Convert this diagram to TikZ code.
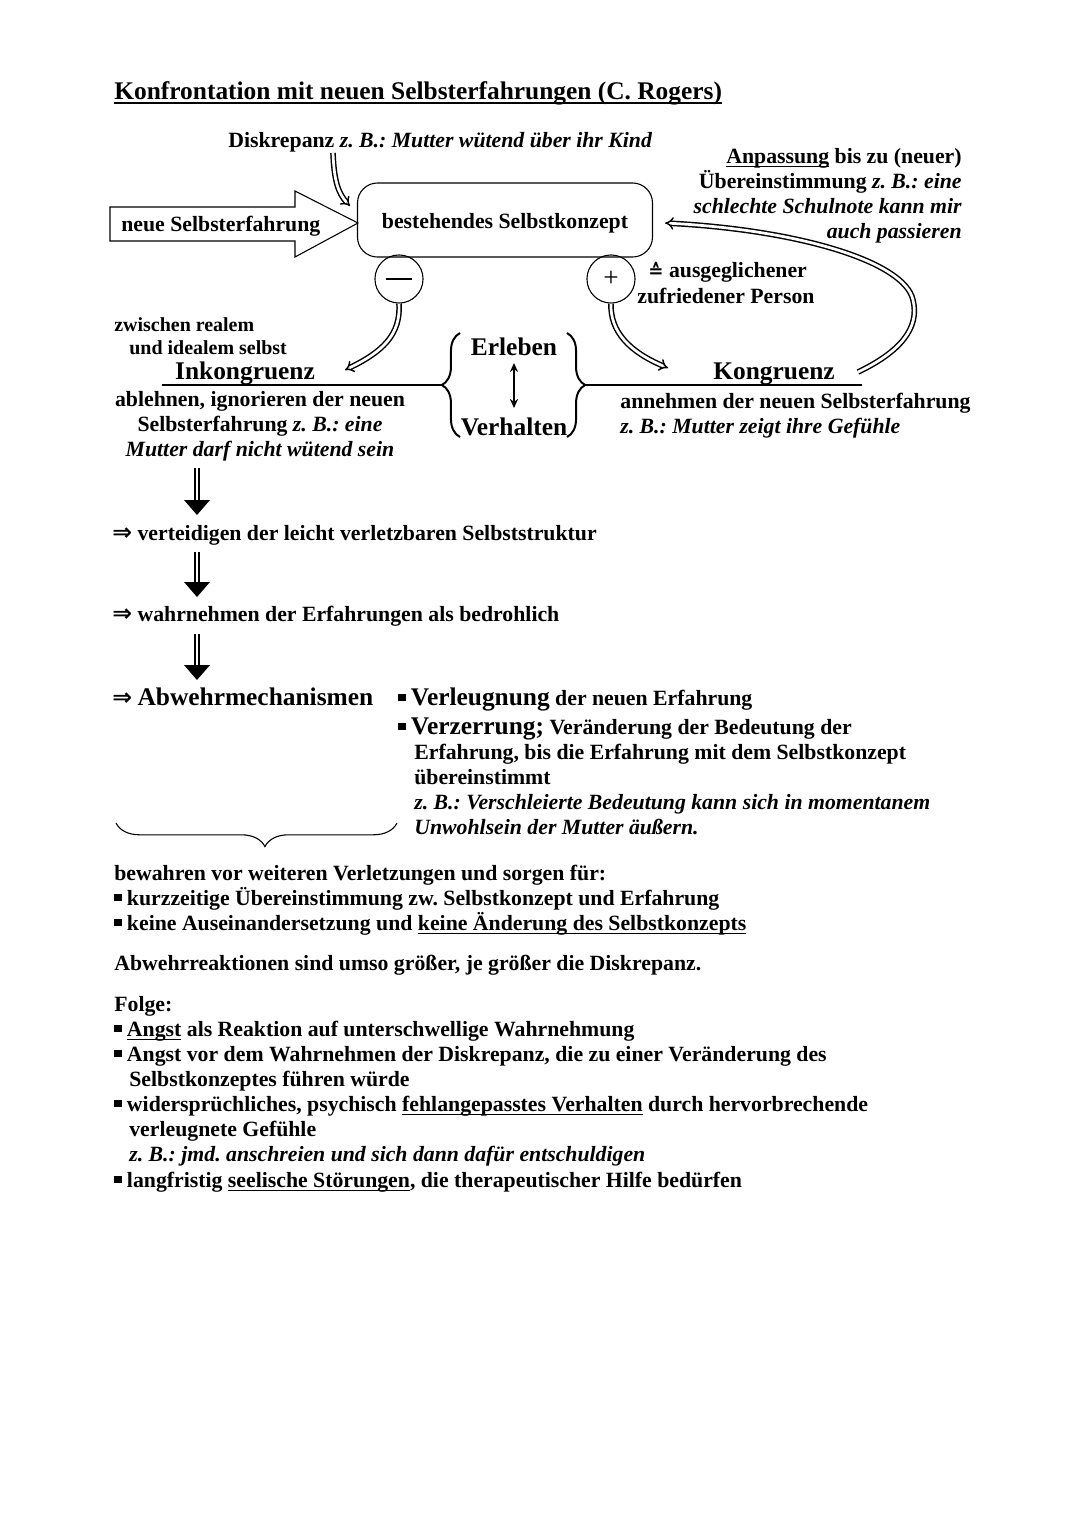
\documentclass[tikz,border=0pt]{standalone}
\usepackage{fontspec}
\setmainfont{Liberation Serif}
\newfontfamily\symf{DejaVu Sans}
\usetikzlibrary{arrows.meta,decorations.pathreplacing,calc}
\frenchspacing
\newsavebox\ulbox
\newcommand\myul[1]{\sbox\ulbox{#1}\rlap{\rule[-0.2em]{\wd\ulbox}{0.065em}}\usebox\ulbox}
\newcommand\bul{\raisebox{0.17em}{\rule{0.33em}{0.33em}}}
\newcommand\impl{{\symf\fontsize{13}{13}\selectfont ⇒}}
\newcommand\bigf{\fontsize{14}{16}\selectfont}
\begin{document}
\begin{tikzpicture}[x=0.55118pt,y=-0.55118pt,
  every node/.style={inner sep=0pt},
  txt/.style={anchor=base west, font=\fontsize{12}{13.8}\selectfont\bfseries},
  txtr/.style={anchor=base east, font=\fontsize{12}{13.8}\selectfont\bfseries},
  txtc/.style={anchor=base, font=\fontsize{12}{13.8}\selectfont\bfseries},
  bigc/.style={anchor=base, font=\fontsize{14}{16}\selectfont\bfseries},
  smalltxt/.style={anchor=base west, font=\fontsize{11}{13}\selectfont\bfseries},
  dblarr/.style={double, double distance=1.5pt, line width=0.8pt, -{Implies[scale=1.2]}},
  downarr/.style={double, double distance=1.5pt, line width=0.8pt},
  arrhead/.style={fill=black},
  barline/.style={line width=1.5pt},
  bracel/.style={line width=1.1pt, decorate, decoration={brace, amplitude=10pt}},
  thinline/.style={line width=0.6pt}
]
\useasboundingbox (0,0) rectangle (1080,1526);

% title
\node[txt, font=\bigf\bfseries] (title) at (114,99) {\myul{Konfrontation mit neuen Selbsterfahrungen (C. Rogers)}};

% top part
\node[txt] (disk) at (228,147) {Diskrepanz {\itshape z. B.: Mutter wütend über ihr Kind}};
\node[txt] (neue) at (121,231) {neue Selbsterfahrung};
\draw[thinline] (110,207) -- (295,207) -- (295,191) -- (358,223) -- (295,257) -- (295,241) -- (110,241) -- cycle;
\node[draw, thinline, rounded corners=11pt, minimum width=162.6pt, minimum height=40.8pt,
      text height=11pt, text depth=1.5pt,
      font=\fontsize{12}{13.8}\selectfont\bfseries] (box) at (505,220) {bestehendes Selbstkonzept};
\node[draw, circle, thinline, minimum size=26.5pt] (minus) at (399,279) {};
\draw[line width=0.7pt] ($(minus.center)+(-13,0)$) -- ($(minus.center)+(13,0)$);
\node[draw, circle, thinline, minimum size=26.5pt, font=\fontsize{15}{16}\selectfont] (plus) at (611,279) {+};

\coordinate (dstart) at (333,153);
\coordinate (dend) at (350,206);
\draw[dblarr] (dstart) .. controls (334,180) and (338,193) .. (dend);

\node[txt] (ausg) at (648,277) {{\symf\fontsize{10}{12}\selectfont ≙} ausgeglichener};
\node[txt] (zufr) at (637,303) {zufriedener Person};

\node[txtr] (anp1) at (962,163) {\myul{Anpassung} bis zu (neuer)};
\node[txtr] (anp2) at (962,188) {Übereinstimmung {\itshape z. B.: eine}};
\node[txtr] (anp3) at (962,213) {\itshape schlechte Schulnote kann mir};
\node[txtr] (anp4) at (962,238) {\itshape auch passieren};

% middle part
\node[smalltxt] (zw1) at (114,331) {zwischen realem};
\node[smalltxt] (zw2) at (129,354) {und idealem selbst};
\node[bigc] (inkon) at (245,379) {Inkongruenz};
\node[bigc] (kon) at (774,379) {Kongruenz};
\node[bigc] (erl) at (514,355) {Erleben};
\node[bigc] (verh) at (514,435) {Verhalten};
\draw[line width=1.1pt, {Stealth[length=5pt,width=4.5pt]}-{Stealth[length=5pt,width=4.5pt]}] ($(erl.base)+(0,8)$) -- ($(verh.base)+(0,-27)$);

\draw[bracel] (460,437) -- (460,333);
\draw[bracel] (567,333) -- (567,437);
\coordinate (lcusp) at (442,385);
\coordinate (rcusp) at (585,385);
\coordinate (lend) at (162,385);
\coordinate (rend) at (862,385);
\draw[barline] (lend) -- (lcusp);
\draw[barline] (rcusp) -- (rend);

\coordinate (inkarr) at (345,370);
\coordinate (konarr) at (668,368);
\draw[dblarr] (minus.south) .. controls (401,335) and (382,352) .. (inkarr);
\draw[dblarr] (plus.south) .. controls (610,332) and (630,352) .. (konarr);

\coordinate (loopstart) at (858,372);
\coordinate (boxarr) at ($(box.east)+(12,3)$);
\draw[dblarr] (loopstart) .. controls (900,352) and (920,328) .. (913,300)
   .. controls (905,262) and (800,230) .. (boxarr);

\node[txtc] (abl1) at (260,406) {ablehnen, ignorieren der neuen};
\node[txtc] (abl2) at (260,431) {Selbsterfahrung {\itshape z. B.: eine}};
\node[txtc] (abl3) at (260,456) {\itshape Mutter darf nicht wütend sein};

\node[txt] (ann1) at (620,408) {annehmen der neuen Selbsterfahrung};
\node[txt] (ann2) at (620,433) {\itshape z. B.: Mutter zeigt ihre Gefühle};

% chain
\node[txt] (vert) at (112,540) {\impl\ verteidigen der leicht verletzbaren Selbststruktur};
\node[txt] (wahr) at (112,621) {\impl\ wahrnehmen der Erfahrungen als bedrohlich};
\node[txt] (abw) at (112,705) {\impl\ {\bigf Abwehrmechanismen}};

\coordinate (a1s) at (197,468); \coordinate (a1e) at (197,515);
\coordinate (a2s) at (197,552); \coordinate (a2e) at (197,597);
\coordinate (a3s) at (197,634); \coordinate (a3e) at (197,680);
\foreach \s/\e in {a1s/a1e,a2s/a2e,a3s/a3e}{
  \draw[downarr] (\s) -- ($(\e)+(0,-13)$);
  \fill[arrhead] ($(\e)+(-13,-15)$) -- ($(\e)+(13,-15)$) -- (\e) -- cycle;
}

\node[txt] (verl) at (398,705) {\bul\ {\bigf Verleugnung} der neuen Erfahrung};
\node[txt] (verz) at (398,734) {\bul\ {\bigf Verzerrung;} Veränderung der Bedeutung der};
\node[txt] (verz2) at (414,759) {Erfahrung, bis die Erfahrung mit dem Selbstkonzept};
\node[txt] (verz3) at (414,784) {übereinstimmt};
\node[txt] (verz4) at (414,809) {\itshape z. B.: Verschleierte Bedeutung kann sich in momentanem};
\node[txt] (verz5) at (414,834) {\itshape Unwohlsein der Mutter äußern.};

\draw[thinline, decorate, decoration={brace, amplitude=13pt, aspect=0.47}] (397,823) -- (116,823);

% bottom text
\node[txt] (bew) at (114,880) {bewahren vor weiteren Verletzungen und sorgen für:};
\node[txt] (bew1) at (114,905) {\bul\ kurzzeitige Übereinstimmung zw. Selbstkonzept und Erfahrung};
\node[txt] (bew2) at (114,930) {\bul\ keine Auseinandersetzung und \myul{keine Änderung des Selbstkonzepts}};
\node[txt] (abwr) at (114,970) {Abwehrreaktionen sind umso größer, je größer die Diskrepanz.};
\node[txt] (folge) at (114,1011) {Folge:};
\node[txt] (f1) at (114,1036) {\bul\ \myul{Angst} als Reaktion auf unterschwellige Wahrnehmung};
\node[txt] (f2) at (114,1061) {\bul\ Angst vor dem Wahrnehmen der Diskrepanz, die zu einer Veränderung des};
\node[txt] (f2b) at (129,1086) {Selbstkonzeptes führen würde};
\node[txt] (f3) at (114,1111) {\bul\ widersprüchliches, psychisch \myul{fehlangepasstes Verhalten} durch hervorbrechende};
\node[txt] (f3b) at (129,1136) {verleugnete Gefühle};
\node[txt] (f3c) at (129,1161) {\itshape z. B.: jmd. anschreien und sich dann dafür entschuldigen};
\node[txt] (f4) at (114,1187) {\bul\ langfristig \myul{seelische Störungen}, die therapeutischer Hilfe bedürfen};
\end{tikzpicture}
\end{document}
